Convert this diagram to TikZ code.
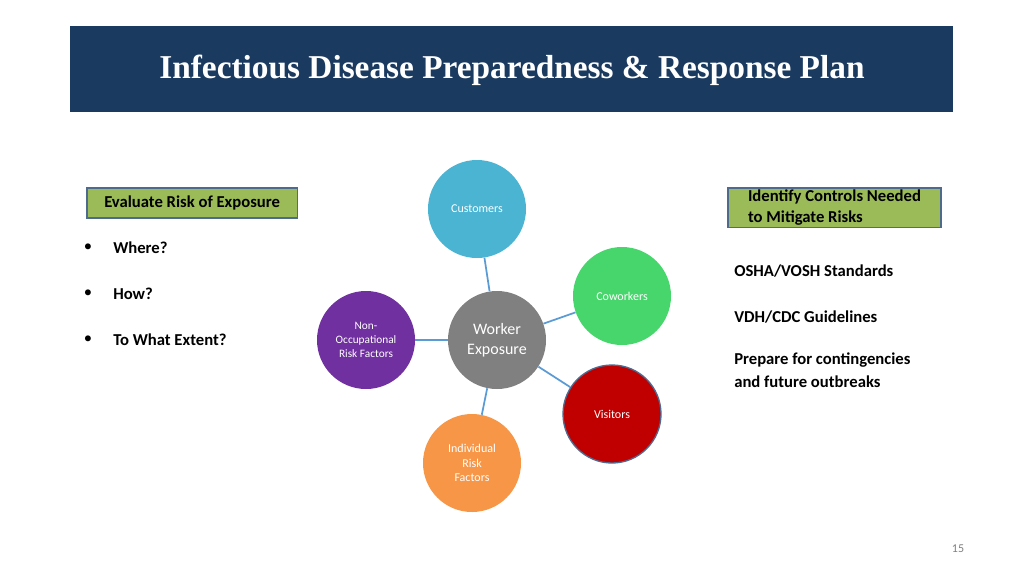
\documentclass[tikz,border=0pt]{standalone}
\usepackage{fontspec}
\setmainfont{Carlito}
\newfontfamily\titlefont{Liberation Serif}
\definecolor{titleblue}{HTML}{1B3A60}
\definecolor{boxgreen}{HTML}{9BBB59}
\definecolor{boxedge}{HTML}{4F6A8F}
\definecolor{linkblue}{HTML}{5B9BD5}
\definecolor{custblue}{HTML}{4BB4D2}
\definecolor{cowgreen}{HTML}{47D66C}
\definecolor{workgray}{HTML}{808080}
\definecolor{nonpurple}{HTML}{7030A0}
\definecolor{visred}{HTML}{C00000}
\definecolor{indorange}{HTML}{F79646}
\tikzset{
  bubble/.style={circle, minimum size=73.5pt, inner sep=0pt, text=white, align=center, font=\fontsize{9}{11}\selectfont},
  hdrbox/.style={draw=boxedge, line width=1.2pt, fill=boxgreen, anchor=north west, inner sep=1.5pt, align=left, font=\fontsize{12.5}{16}\selectfont\bfseries},
  plain/.style={anchor=west, inner sep=0pt, align=left, font=\fontsize{12.5}{17}\selectfont\bfseries},
  link/.style={draw=linkblue, line width=1.3pt}
}
\begin{document}
\begin{tikzpicture}[x=0.75pt, y=-0.75pt]
  \useasboundingbox (0,0) rectangle (1024,576);
  \fill[white] (0,0) rectangle (1024,576);

  % Titel
  \fill[titleblue] (70,26) rectangle (953,112);
  \node[text=white, font=\titlefont\fontsize{25}{30}\selectfont\bfseries] (title) at (512,70) {Infectious Disease Preparedness \& Response Plan};

  % Kreise
  \node[bubble, fill=workgray, font=\fontsize{12}{15}\selectfont] (worker) at (497,340) {Worker\\Exposure};
  \node[bubble, fill=custblue] (cust) at (477,209) {Customers};
  \node[bubble, fill=cowgreen] (cow) at (622,296) {Coworkers};
  \node[bubble, fill=nonpurple, font=\fontsize{8.5}{10.5}\selectfont] (nonocc) at (366,340) {Non-\\Occupational\\Risk Factors};
  \node[bubble, fill=visred, draw=boxedge, line width=1pt] (vis) at (612,414) {Visitors};
  \node[bubble, fill=indorange] (indiv) at (472,463) {Individual\\Risk\\Factors};

  % Verbindungen
  \draw[link] (worker) -- (cust);
  \draw[link] (worker) -- (cow);
  \draw[link] (worker) -- (nonocc);
  \draw[link] (worker) -- (vis);
  \draw[link] (worker) -- (indiv);

  % links
  \node[hdrbox, minimum width=158pt, minimum height=22.5pt] (evalbox) at (86,187) {Evaluate Risk of Exposure};
  \node[plain] (where) at (113,248) {Where?};
  \node[plain] (how) at (113,294) {How?};
  \node[plain] (extent) at (113,340) {To What Extent?};
  \foreach \n in {where,how,extent}
    \node[anchor=east, font=\fontsize{12.5}{15}\selectfont] at ([xshift=-12pt]\n.west) {\textbullet};

  % rechts
  \node[hdrbox, minimum width=160pt] (ctrlbox) at (727,187) {Identify Controls Needed\\to Mitigate Risks};
  \node[plain] (osha) at (734,271) {OSHA/VOSH Standards};
  \node[plain] (vdh) at (734,317) {VDH/CDC Guidelines};
  \node[plain, anchor=north west] (prep) at (734,353) {Prepare for contingencies\\and future outbreaks};

  \node[text=gray, font=\fontsize{9}{11}\selectfont] (page) at (958,549) {15};
\end{tikzpicture}
\end{document}
